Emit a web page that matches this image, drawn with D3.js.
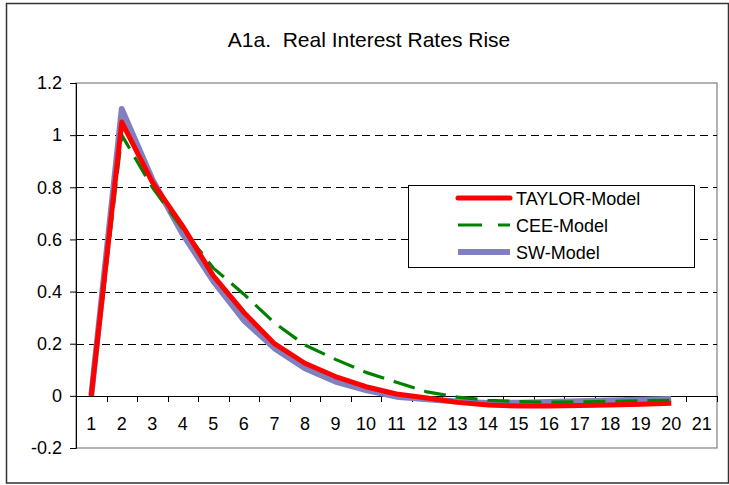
<!DOCTYPE html>
<html>
<head>
<meta charset="utf-8">
<script src="https://cdnjs.cloudflare.com/ajax/libs/d3/7.8.5/d3.min.js"></script>
<style>
  body { margin: 0; background: #fff; }
  text { font-family: "Liberation Sans", Arial, sans-serif; fill: #000; }
</style>
</head>
<body>
<div id="chart"></div>
<script>
// data
var periods = d3.range(1, 22);          // x categories 1..21
var taylorVals = [0, 1.05, 0.82, 0.65, 0.46, 0.32, 0.20, 0.125, 0.074, 0.035, 0.007, -0.008, -0.025, -0.035, -0.039, -0.039, -0.037, -0.035, -0.032, -0.028];
var ceeVals = [0, 1.0, 0.80, 0.64, 0.49, 0.39, 0.28, 0.195, 0.14, 0.09, 0.052, 0.015, -0.005, -0.017, -0.022, -0.024, -0.023, -0.021, -0.019, -0.017];
var swVals = [0, 1.1, 0.83, 0.62, 0.44, 0.29, 0.183, 0.106, 0.055, 0.022, -0.003, -0.013, -0.022, -0.027, -0.026, -0.024, -0.021, -0.018, -0.015, -0.012];
var yTicks = [-0.2, 0, 0.2, 0.4, 0.6, 0.8, 1, 1.2];
var gridVals = [0.2, 0.4, 0.6, 0.8, 1];
var seriesNames = ["TAYLOR-Model", "CEE-Model", "SW-Model"];

var width = 729, height = 485;
var margin = {top: 83, right: 12, bottom: 37, left: 76};
var w = width - margin.left - margin.right,
    h = height - margin.top - margin.bottom;

var svg = d3.select("#chart")
  .append("svg")
  .attr("width", width)
  .attr("height", height);

// outer chart frame
svg.append("rect")
  .attr("x", 6.5).attr("y", 3.5)
  .attr("width", 722).attr("height", 479.5)
  .attr("fill", "none")
  .attr("stroke", "#333")
  .attr("stroke-width", 1.5);

svg.append("text")
  .attr("x", 369)
  .attr("y", 47)
  .attr("text-anchor", "middle")
  .style("font-size", "21px")
  .style("white-space", "pre")
  .text("A1a.  Real Interest Rates Rise");

var g = svg.append("g")
  .attr("transform", "translate(" + margin.left + "," + margin.top + ")");

var x = d3.scaleBand().domain(periods).range([0, w]);
var y = d3.scaleLinear().domain([-0.2, 1.2]).range([h, 0]);

// plot area border
g.append("rect")
  .attr("x", 0).attr("y", 0)
  .attr("width", w).attr("height", h)
  .attr("fill", "none")
  .attr("stroke", "#808080")
  .attr("stroke-width", 1.2);

// dashed gridlines
g.selectAll(".grid")
  .data(gridVals)
  .enter().append("line")
    .attr("class", "grid")
    .attr("x1", 0).attr("x2", w)
    .attr("y1", function(d) { return Math.round(y(d)) + 0.5; })
    .attr("y2", function(d) { return Math.round(y(d)) + 0.5; })
    .attr("stroke", "#000")
    .attr("stroke-dasharray", "8,5");

// y axis, hyphen minus like the original
var yAxis = g.append("g")
  .call(d3.axisLeft(y).tickValues(yTicks).tickSize(6).tickPadding(8)
    .tickFormat(function(d) { return String(+d.toFixed(1)); }));
yAxis.select(".domain").attr("stroke", "#000");
yAxis.selectAll("text").style("font-size", "18px").style("font-family", "Liberation Sans, Arial, sans-serif");
yAxis.selectAll(".tick line").attr("stroke", "#000");

// x axis sits on zero, ticks at category boundaries
var xAxisG = g.append("g")
  .attr("transform", "translate(0," + Math.round(y(0)) + ")");
xAxisG.append("line")
  .attr("x1", 0).attr("x2", w)
  .attr("y1", 0.5).attr("y2", 0.5)
  .attr("stroke", "#000");
xAxisG.selectAll(".xtick")
  .data(periods)
  .enter().append("line")
    .attr("class", "xtick")
    .attr("x1", function(d) { return Math.round(x(d) + x.bandwidth()) + 0.5; })
    .attr("x2", function(d) { return Math.round(x(d) + x.bandwidth()) + 0.5; })
    .attr("y1", 0).attr("y2", 6)
    .attr("stroke", "#000");
xAxisG.selectAll(".xlabel")
  .data(periods)
  .enter().append("text")
    .attr("class", "xlabel")
    .attr("x", function(d) { return x(d) + x.bandwidth() / 2; })
    .attr("y", 34)
    .attr("text-anchor", "middle")
    .style("font-size", "18px")
    .text(function(d) { return d; });

var line = d3.line()
  .x(function(d, i) { return x(periods[i]) + x.bandwidth() / 2; })
  .y(function(d) { return y(d); });

var styles = {
  "TAYLOR-Model": {data: taylorVals, color: "#ff0000", width: 5, dash: null},
  "CEE-Model": {data: ceeVals, color: "#008000", width: 3.2, dash: "22,10"},
  "SW-Model": {data: swVals, color: "#8080c0", width: 6, dash: null}
};

// SW underneath, red on top
["SW-Model", "CEE-Model", "TAYLOR-Model"].forEach(function(name) {
  var s = styles[name];
  g.append("path")
    .datum(s.data)
    .attr("fill", "none")
    .attr("stroke", s.color)
    .attr("stroke-width", s.width)
    .attr("stroke-linejoin", "round")
    .attr("stroke-dasharray", s.dash)
    .attr("d", line);
});

// legend
var legend = svg.append("g")
  .attr("transform", "translate(408,185)");
legend.append("rect")
  .attr("x", 0.5).attr("y", 0.5)
  .attr("width", 286).attr("height", 82)
  .attr("fill", "#fff")
  .attr("stroke", "#000")
  .attr("stroke-width", 1);

var items = legend.selectAll(".item")
  .data(seriesNames)
  .enter().append("g")
    .attr("class", "item")
    .attr("transform", function(d, i) { return "translate(0," + (13 + i * 27) + ")"; });
items.append("line")
  .attr("x1", 50).attr("x2", 102)
  .attr("y1", 0).attr("y2", 0)
  .attr("stroke", function(d) { return styles[d].color; })
  .attr("stroke-width", function(d) { return styles[d].width; })
  .attr("stroke-linecap", function(d) { return d == "TAYLOR-Model" ? "round" : "butt"; })
  .attr("stroke-dasharray", function(d) { return d == "CEE-Model" ? "24,16" : null; });
items.append("text")
  .attr("x", 108)
  .attr("y", 6.5)
  .style("font-size", "18px")
  .text(function(d) { return d; });
</script>
</body>
</html>
